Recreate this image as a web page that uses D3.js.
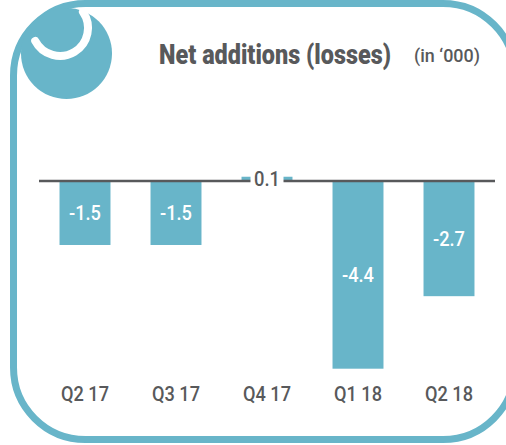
<!DOCTYPE html>
<html><head><meta charset="utf-8">
<script src="https://cdn.jsdelivr.net/npm/d3@7"></script>
<style>html,body{margin:0;padding:0;background:#fff;overflow:hidden}svg{display:block}</style>
</head><body><svg id="c" width="506" height="445"></svg>
<script>
const categories = ["Q2 17","Q3 17","Q4 17","Q1 18","Q2 18"];
const values = [-1.5,-1.5,0.1,-4.4,-2.7];
const labels = ["-1.5","-1.5","0.1","-4.4","-2.7"];
const teal = "#68b5c9", grey = "#58595b";
const svg = d3.select("#c");
svg.append("rect").attr("x",13.5).attr("y",3.5).attr("width",501.5).attr("height",436).attr("rx",72).attr("ry",72)
  .attr("fill","#fff").attr("stroke",teal).attr("stroke-width",7);
svg.append("path").attr("d","M21,53A69,69 0 0 1 72,8Z").attr("fill",teal);
svg.append("circle").attr("cx",66.5).attr("cy",53.5).attr("r",45.5).attr("fill",teal);
const hook = d3.path();
hook.arc(60,28,28,-0.61,2.66);
svg.append("path").attr("d",hook.toString()).attr("fill","none").attr("stroke","#fff").attr("stroke-width",8).attr("stroke-linecap","round");
const x = d3.scaleBand().domain(categories).range([39.5,494.5]).paddingInner(0.44).paddingOuter(0.22);
const y = d3.scaleLinear().domain([0,-4.4]).range([181,368.7]);
svg.selectAll("rect.b").data(values).join("rect").attr("class","b")
  .attr("x",(d,i)=>x(categories[i])).attr("width",x.bandwidth())
  .attr("y",d=>Math.min(y(0),y(d))).attr("height",d=>Math.abs(y(d)-y(0))).attr("fill",teal);
svg.append("line").attr("x1",39).attr("x2",495).attr("y1",y(0)).attr("y2",y(0)).attr("stroke",grey).attr("stroke-width",2.4);
const F = "Roboto,'Liberation Sans',sans-serif";
// Draw text condensed to a target width: the reference face is narrower than the installed ones.
function put(parent, str, cx, by, width, size, weight, fill) {
  const t = parent.append("text").attr("font-family",F).attr("font-size",size).attr("font-weight",weight)
    .attr("fill",fill).attr("text-anchor","middle").text(str);
  const k = width / t.node().getComputedTextLength();
  t.attr("transform",`translate(${cx},${by}) scale(${k},1)`);
  return t;
}
values.forEach((d,i)=>{
  const cx = x(categories[i]) + x.bandwidth()/2, my = (y(0)+y(d))/2;
  if (d>0) svg.append("rect").attr("x",cx-16.5).attr("width",33).attr("y",my-9).attr("height",18).attr("fill","#fff");
  put(svg, labels[i], cx, my+7.2, d>0?26:32, 19.5, 500, d>0?grey:"#fff");
});
categories.forEach(c=>put(svg, c, x(c)+x.bandwidth()/2, 401, 48, 19.5, 500, grey));
put(svg, "Net additions (losses)", 275, 63.5, 232, 28.5, 900, grey);
put(svg, "(in ‘000)", 447, 62, 66, 18, 500, grey);
</script></body></html>
